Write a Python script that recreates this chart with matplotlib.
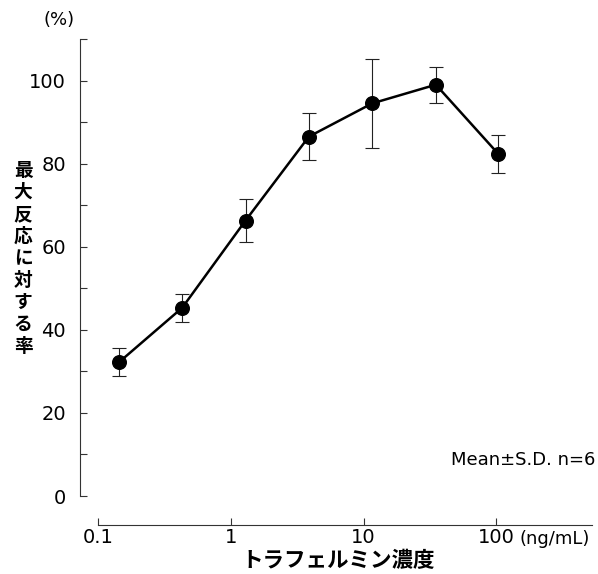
import numpy as np
import matplotlib
matplotlib.use("Agg")
import matplotlib.pyplot as plt
import matplotlib.transforms as mtransforms

plt.rcParams['font.family'] = ['DejaVu Sans', 'Noto Sans CJK JP']

# data
conc = [0.145, 0.43, 1.29, 3.87, 11.6, 35.0, 103.0]
mean = [32.3, 45.3, 66.3, 86.5, 94.5, 99.0, 82.4]
sd = [3.3, 3.3, 5.1, 5.7, 10.8, 4.3, 4.6]
xticks = [0.1, 1, 10, 100]
xticklabels = ['0.1', '1', '10', '100']
ylabel_chars = list('最大反応に対する率')
xlabel = 'トラフェルミン濃度'

fig = plt.figure(figsize=(5.98, 5.74), dpi=100)
ax = fig.add_axes([80 / 598, 78 / 574, 512 / 598, 457 / 574])

ax.errorbar(conc, mean, yerr=sd, fmt='none', ecolor='#222222',
            elinewidth=0.8, capsize=5, capthick=0.8, zorder=2, clip_on=False)
ax.plot(conc, mean, color='black', lw=1.8, marker='o', ms=9.8,
        mfc='black', mec='black', zorder=3, clip_on=False)

ax.set_xscale('log')
ax.set_xlim(0.0731, 525)
ax.set_ylim(0, 110)

for s in ['top', 'right']:
    ax.spines[s].set_visible(False)
ax.spines['left'].set_bounds(0, 110)
ax.spines['bottom'].set_bounds(0.1, 525)
ax.spines['bottom'].set_position(('outward', 21))
for s in ['left', 'bottom']:
    ax.spines[s].set_linewidth(0.8)
    ax.spines[s].set_color('#333333')

ax.set_yticks([0, 20, 40, 60, 80, 100])
ax.set_yticks(np.arange(10, 111, 20), minor=True)
ax.set_xticks(xticks)
ax.set_xticklabels(xticklabels)
ax.xaxis.set_minor_locator(matplotlib.ticker.NullLocator())
ax.tick_params(axis='both', which='both', direction='in', length=5,
               width=0.8, color='#333333', labelsize=14)
ax.tick_params(axis='y', pad=10)
ax.tick_params(axis='x', pad=2)

# y label stacked vertically
ax.text(-0.111, 0.52, '\n'.join(ylabel_chars), transform=ax.transAxes,
        ha='center', va='center', fontsize=13.5, fontweight='bold',
        family='Noto Sans CJK JP', linespacing=1.2)
fig.text(338 / 598, 1 - 561 / 574, xlabel, ha='center', va='center',
         fontsize=15.5, fontweight='bold', family='Noto Sans CJK JP')
fig.text(59 / 598, 1 - 20 / 574, '(%)', ha='center', va='center', fontsize=13)

trans = mtransforms.blended_transform_factory(ax.transData, fig.transFigure)
ax.text(150, 1 - 539 / 574, '(ng/mL)', transform=trans, ha='left',
        va='center', fontsize=13)
fig.text(595 / 598, 1 - 460 / 574, 'Mean±S.D. n=6', ha='right', va='center',
         fontsize=13)

fig.savefig('out.png', dpi=100)
